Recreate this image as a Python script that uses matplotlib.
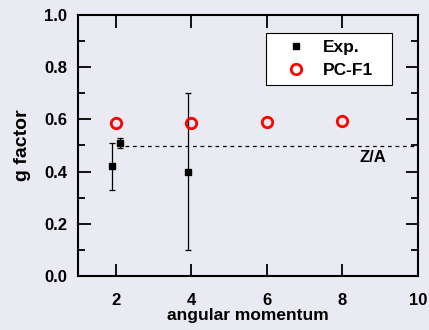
import matplotlib
matplotlib.use("Agg")
import matplotlib.pyplot as plt
from matplotlib.ticker import MultipleLocator, FormatStrFormatter

plt.rcParams["font.family"] = ["Liberation Sans", "DejaVu Sans"]
plt.rcParams["font.weight"] = "bold"

# experimental g factors with error bars
exp_j = [1.91, 2.10, 3.90]
exp_g = [0.42, 0.51, 0.40]
exp_err = [0.09, 0.02, 0.30]

# PC-F1 calculation
calc_j = [2, 4, 6, 8]
calc_g = [0.587, 0.588, 0.590, 0.594]

z_over_a = 0.5
bg = "#EAEAF2"

fig = plt.figure(figsize=(4.29, 3.30), dpi=100, facecolor=bg)
ax = fig.add_axes([78 / 429, 1 - 276 / 330, 340 / 429, 261 / 330])
ax.set_facecolor(bg)

ax.errorbar(exp_j, exp_g, yerr=exp_err, fmt="none", ecolor="black",
            elinewidth=0.9, capsize=2.5, capthick=0.9)
ax.plot(exp_j, exp_g, "s", color="black", ms=5, label="Exp.")
ax.plot(calc_j, calc_g, "o", ms=7.5, mfc="none", mec="red", mew=2,
        label="PC-F1")
ax.plot([2.25, 10], [z_over_a, z_over_a], "--", color="black", lw=0.9,
        dashes=(3, 3))
ax.text(8.45, 0.455, "Z/A", fontsize=12, fontweight="bold", ha="left",
        va="center")

ax.set_xlim(1, 10)
ax.set_ylim(0, 1.0)
ax.xaxis.set_major_locator(MultipleLocator(2))
ax.yaxis.set_major_locator(MultipleLocator(0.2))
ax.yaxis.set_minor_locator(MultipleLocator(0.1))
ax.yaxis.set_major_formatter(FormatStrFormatter("%.1f"))

ax.tick_params(which="both", direction="in", top=True, right=True,
               width=1.3, labelsize=12)
ax.tick_params(which="major", length=9)
ax.tick_params(which="minor", length=5)
ax.tick_params(axis="x", pad=12)
ax.tick_params(axis="y", pad=8)
for lab in ax.get_xticklabels() + ax.get_yticklabels():
    lab.set_fontweight("bold")
for s in ax.spines.values():
    s.set_linewidth(1.5)

ax.set_xlabel("angular momentum", fontsize=12.5, fontweight="bold",
              labelpad=0)
ax.set_ylabel("g factor", fontsize=14, fontweight="bold", labelpad=9)

# legend box stretched to a fixed width
leg = ax.legend(loc="upper left", bbox_to_anchor=(0.553, 0.72, 0.37, 0.211),
                mode="expand", fontsize=12.5, frameon=True, fancybox=False,
                edgecolor="black", handlelength=2.6, handletextpad=0.25,
                borderpad=0.4, borderaxespad=0, labelspacing=0.45,
                framealpha=1)
leg.get_frame().set_linewidth(0.8)
for t in leg.get_texts():
    t.set_fontweight("bold")

fig.savefig("out.png", dpi=100, facecolor=bg)
